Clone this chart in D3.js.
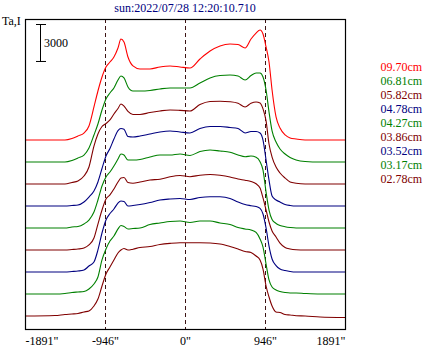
<!DOCTYPE html>
<html><head><meta charset="utf-8">
<script src="https://cdn.jsdelivr.net/npm/d3@7"></script>
<style>
html,body{margin:0;padding:0;background:#fff;}
svg{display:block;}
text{font-family:"Liberation Serif","Times New Roman",serif;}
</style></head>
<body>
<div id="chart"></div>
<script>
// ---- data ----
const titleText = "sun:2022/07/28 12:20:10.710";
const yLabel = "Ta,I";
const scaleBarValue = 3000;
const xTicks = [-1891, -946, 0, 946, 1891];
const tickLabels = ['-1891"', '-946"', '0"', '946"', '1891"'];
const limbLines = [-946, 0, 946];
// positions in arcsec along the scan
const positions = [-1891,-1537,-1419,-1336,-1265,-1194,-1135,-1076,-1029,-981,-934,-887,-840,-792,-757,-721,-674,-615,-532,-414,-296,-177,-59,59,177,296,414,532,627,710,780,840,887,922,958,993,1029,1076,1123,1183,1242,1313,1419,1596,1891];
// wavelengths, top to bottom
const wavelengths = ["09.70cm","06.81cm","05.82cm","04.78cm","04.27cm","03.86cm","03.52cm","03.17cm","02.78cm"];
// Ta values (K) per wavelength
const ta0970 = [0,0,0,120,320,550,1110,2610,3870,4980,5770,6160,6560,7270,7980,7740,6560,5850,5610,5610,5770,5850,5770,5690,6400,7030,7430,7580,7540,7270,7980,8450,8690,8370,7350,6160,3950,1820,950,400,160,80,0,0,0];
const ta0681 = [0,0,0,120,320,550,1110,2130,3000,4110,4980,5450,5850,6480,6790,6640,5930,5610,5610,5650,5770,5850,5850,5850,6240,6640,6830,6870,6790,6480,6830,7030,7030,6720,5690,3950,2450,1580,1030,630,360,160,40,0,0];
const ta0582 = [0,0,0,120,240,630,1340,3000,3950,4540,4780,5060,5530,5960,6320,6160,5730,5490,5490,5650,5770,5850,5820,5770,6280,6520,6540,6500,6380,6080,6380,6480,6400,5930,4980,3160,2130,1340,870,470,160,60,0,0,0];
const ta0478 = [0,0,0,40,80,320,710,1190,1900,2960,3950,4540,5290,5960,6120,6060,5490,5450,5530,5690,5850,5930,5850,5770,6120,6280,6280,6200,6120,5770,5890,5890,5770,5210,3630,2050,790,470,320,120,40,0,0,0,0];
const ta0427 = [0,0,0,80,120,320,630,1260,2210,3320,4030,4420,4900,5450,5850,5770,5370,5370,5410,5610,5770,5770,5850,5730,6040,6160,6080,5990,5770,5630,5690,5590,5240,4580,2840,1420,670,360,200,100,40,0,0,0,0];
const ta0386 = [0,0,0,40,80,160,400,950,2050,3160,4030,4350,4820,5370,5690,5730,5330,5270,5370,5530,5590,5790,5890,5790,5910,5960,5900,5770,5610,5510,5410,5230,4900,4110,3160,2210,1500,1030,550,200,80,20,0,0,0];
const ta0352 = [0,0,0,40,80,160,470,790,1740,3080,4110,4620,4980,5450,5610,5570,5210,5250,5330,5490,5690,5770,5810,5730,5890,5950,5940,5810,5530,5330,5240,5170,5030,4580,3480,2050,1030,510,240,120,40,0,0,0,0];
const ta0317 = [0,0,40,120,160,200,400,790,1340,2690,3560,4190,4580,5140,5410,5330,5140,5170,5210,5490,5610,5730,5770,5650,5770,5770,5610,5490,5250,5140,5060,4860,4350,3710,2370,1110,550,320,200,120,80,80,40,0,0];
const ta0278 = [0,40,120,160,200,320,400,790,1340,2370,3320,3870,4420,4980,5210,5330,5210,5280,5410,5490,5650,5740,5790,5790,5790,5770,5690,5490,5290,5100,5020,4740,4420,3710,2370,1500,790,320,280,120,80,20,0,-80,-120];
const seriesValues = [ta0970, ta0681, ta0582, ta0478, ta0427, ta0386, ta0352, ta0317, ta0278];

// ---- styles ----
const colors = ["#ff0000","#008000","#800000","#000080","#008000","#800000","#000080","#008000","#800000"];
const W = 423, H = 347;
const plot = {left:25, right:345, top:19, bottom:329};
const offsetStep = 1738; // vertical stacking step in Ta units

const svg = d3.select("#chart").append("svg").attr("width", W).attr("height", H);
svg.append("rect").attr("width", W).attr("height", H).attr("fill", "#fff");

const x = d3.scaleLinear().domain([-1891, 1891]).range([plot.left, plot.right]);
const y = d3.scaleLinear().domain([-1027, 23463]).range([plot.bottom, plot.top]);

svg.append("clipPath").attr("id","clip").append("rect")
  .attr("x", plot.left).attr("y", plot.top)
  .attr("width", plot.right - plot.left).attr("height", plot.bottom - plot.top);

// title
svg.append("text").attr("x", (plot.left + plot.right) / 2).attr("y", 12)
  .attr("text-anchor","middle").attr("font-size", 12).attr("fill", "#000080").text(titleText);

// y label
svg.append("text").attr("x", 2).attr("y", 25).attr("font-size", 12).attr("fill", "#000").text(yLabel);

// dashed limb lines
svg.append("g").selectAll("line").data(limbLines).join("line")
  .attr("x1", d => Math.round(x(d)) + 0.5).attr("x2", d => Math.round(x(d)) + 0.5)
  .attr("y1", plot.top).attr("y2", plot.bottom)
  .attr("stroke", "#3c1414").attr("stroke-width", 1).attr("stroke-dasharray", "4,3");

// curves
const n = seriesValues.length;
const gCurves = svg.append("g").attr("clip-path", "url(#clip)");
seriesValues.forEach((vals, i) => {
  const off = (n - 1 - i) * offsetStep;
  const line = d3.line()
    .x((d, j) => x(positions[j]))
    .y(d => y(d + off))
    .curve(d3.curveMonotoneX);
  gCurves.append("path").datum(vals)
    .attr("d", line).attr("fill", "none")
    .attr("stroke", colors[i]).attr("stroke-width", 1.1);
});

// frame
svg.append("rect").attr("x", plot.left + 0.5).attr("y", plot.top + 0.5)
  .attr("width", plot.right - plot.left).attr("height", plot.bottom - plot.top)
  .attr("fill", "none").attr("stroke", "#000").attr("stroke-width", 1.2);

// x axis
const axis = svg.append("g").attr("transform", `translate(0,${plot.bottom})`)
  .call(d3.axisBottom(x).tickValues(xTicks).tickFormat((d, i) => tickLabels[i]).tickSize(0));
axis.select(".domain").remove();
axis.selectAll("text")
  .attr("font-family", '"Liberation Serif","Times New Roman",serif')
  .attr("font-size", 12).attr("fill", "#000")
  .attr("dy", null).attr("y", 16)
  .attr("text-anchor", (d, i) => i === 0 ? "start" : (i === xTicks.length - 1 ? "end" : "middle"));

// scale bar
const barTop = 24;
const barLen = y(0) - y(scaleBarValue);
const barX = 40.5;
const gBar = svg.append("g").attr("stroke", "#000").attr("stroke-width", 1);
gBar.append("line").attr("x1", barX).attr("x2", barX).attr("y1", barTop).attr("y2", barTop + barLen);
gBar.append("line").attr("x1", 36).attr("x2", 46).attr("y1", barTop + 0.5).attr("y2", barTop + 0.5);
gBar.append("line").attr("x1", 36).attr("x2", 46).attr("y1", barTop + barLen - 0.5).attr("y2", barTop + barLen - 0.5);
svg.append("text").attr("x", 44).attr("y", barTop + barLen / 2 + 4)
  .attr("font-size", 12).attr("fill", "#000").text(scaleBarValue);

// legend
svg.append("g").selectAll("text").data(wavelengths).join("text")
  .attr("x", 380.5).attr("y", (d, i) => 71 + i * 14)
  .attr("font-size", 12).attr("fill", (d, i) => colors[i]).text(d => d);
</script>
</body></html>
